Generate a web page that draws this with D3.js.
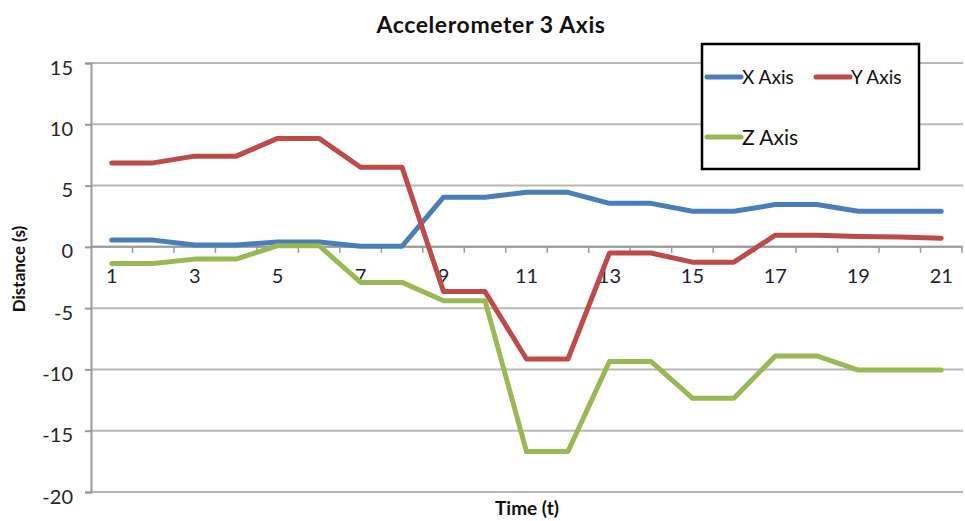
<!DOCTYPE html>
<html>
<head>
<meta charset="utf-8">
<script src="https://cdn.jsdelivr.net/npm/d3@7"></script>
<style>
  html, body { margin: 0; padding: 0; background: #fff; }
  svg { display: block; font-family: Lato, "Open Sans", sans-serif; }
</style>
</head>
<body>
<svg id="chart" width="965" height="521"></svg>
<script>
// Sample index (time steps)
const timeSteps = d3.range(1, 22);

// Accelerometer readings per axis
const xAxisValues = [0.55, 0.55, 0.15, 0.15, 0.4, 0.4, 0.05, 0.05, 4.05, 4.05, 4.45, 4.45, 3.55, 3.55, 2.9, 2.9, 3.45, 3.45, 2.9, 2.9, 2.9];
const yAxisValues = [6.85, 6.85, 7.4, 7.4, 8.85, 8.85, 6.5, 6.5, -3.65, -3.65, -9.15, -9.15, -0.5, -0.5, -1.25, -1.25, 0.95, 0.95, 0.85, 0.8, 0.7];
const zAxisValues = [-1.35, -1.35, -1.0, -1.0, 0.1, 0.1, -2.9, -2.9, -4.4, -4.4, -16.7, -16.7, -9.35, -9.35, -12.35, -12.35, -8.9, -8.9, -10.05, -10.05, -10.05];

const seriesNames = ["X Axis", "Y Axis", "Z Axis"];
const seriesColors = ["#4a7ebb", "#be4b48", "#98b954"];

const yTicks = [15, 10, 5, 0, -5, -10, -15, -20];
const xTickLabels = timeSteps.filter(t => t % 2 === 1);

const series = [
  { name: seriesNames[0], color: seriesColors[0], values: xAxisValues },
  { name: seriesNames[1], color: seriesColors[1], values: yAxisValues },
  { name: seriesNames[2], color: seriesColors[2], values: zAxisValues }
];

const svg = d3.select("#chart");
const plot = { left: 91, right: 962, top: 63, bottom: 492 };

const x = d3.scaleBand().domain(timeSteps).range([plot.left, plot.right]).padding(0);
const y = d3.scaleLinear().domain([-20, 15]).range([plot.bottom, plot.top]);

// Horizontal gridlines
svg.append("g")
  .selectAll("line")
  .data(yTicks)
  .join("line")
  .attr("x1", plot.left).attr("x2", 963)
  .attr("y1", d => y(d)).attr("y2", d => y(d))
  .attr("stroke", "#b8b8b8").attr("stroke-width", 2);

// Y axis
const yAxis = svg.append("g")
  .attr("transform", `translate(${plot.left},0)`)
  .call(d3.axisLeft(y).tickValues(yTicks).tickFormat(d => String(d)).tickSize(6).tickPadding(12));
yAxis.select(".domain").attr("stroke", "#9a9a9a").attr("stroke-width", 2);
yAxis.selectAll(".tick line").attr("stroke", "#9a9a9a").attr("stroke-width", 2);
yAxis.selectAll(".tick text")
  .attr("font-size", 20).attr("fill", "#262626")
  .attr("dy", "0.55em")
  .attr("font-family", "Lato, sans-serif");

// X axis sits on the zero line
const xBoundaries = timeSteps.map(t => x(t)).concat([plot.right]);
svg.append("line")
  .attr("x1", plot.left).attr("x2", plot.right)
  .attr("y1", y(0)).attr("y2", y(0))
  .attr("stroke", "#9a9a9a").attr("stroke-width", 2);
svg.append("g")
  .selectAll("line")
  .data(xBoundaries.slice(1))
  .join("line")
  .attr("x1", d => d).attr("x2", d => d)
  .attr("y1", y(0)).attr("y2", y(0) + 6)
  .attr("stroke", "#9a9a9a").attr("stroke-width", 1.5);
svg.append("g")
  .selectAll("text")
  .data(xTickLabels)
  .join("text")
  .attr("x", d => x(d) + x.bandwidth() / 2)
  .attr("y", y(0) + 36)
  .attr("text-anchor", "middle")
  .attr("font-size", 20)
  .attr("fill", "#1e2436")
  .text(d => d);

// Series lines
const line = d3.line()
  .x((d, i) => x(timeSteps[i]) + x.bandwidth() / 2)
  .y(d => y(d));

svg.append("g")
  .selectAll("path")
  .data(series)
  .join("path")
  .attr("d", d => line(d.values))
  .attr("fill", "none")
  .attr("stroke", d => d.color)
  .attr("stroke-width", 5)
  .attr("stroke-linejoin", "round")
  .attr("stroke-linecap", "round");

// Title
svg.append("text")
  .attr("x", 491).attr("y", 33)
  .attr("text-anchor", "middle")
  .attr("font-size", 23).attr("font-weight", "bold")
  .attr("letter-spacing", 0.6)
  .attr("fill", "#111")
  .text("Accelerometer 3 Axis");

// Axis titles
svg.append("text")
  .attr("transform", "translate(25,269) rotate(-90)")
  .attr("text-anchor", "middle")
  .attr("font-size", 17).attr("font-weight", "bold")
  .attr("fill", "#111")
  .text("Distance (s)");
svg.append("text")
  .attr("x", 527).attr("y", 515)
  .attr("text-anchor", "middle")
  .attr("font-size", 19).attr("font-weight", "bold")
  .attr("fill", "#111")
  .text("Time (t)");

// Legend
const legend = svg.append("g");
legend.append("rect")
  .attr("x", 702).attr("y", 44)
  .attr("width", 217).attr("height", 125)
  .attr("fill", "#fff").attr("stroke", "#000").attr("stroke-width", 2.5);
const legendItems = [
  { s: series[0], lx: 707, ly: 77, fs: 19 },
  { s: series[1], lx: 816, ly: 77, fs: 19 },
  { s: series[2], lx: 707, ly: 137, fs: 21 }
];
legendItems.forEach(it => {
  legend.append("line")
    .attr("x1", it.lx).attr("x2", it.lx + 34)
    .attr("y1", it.ly).attr("y2", it.ly)
    .attr("stroke", it.s.color).attr("stroke-width", 5)
    .attr("stroke-linecap", "round");
  legend.append("text")
    .attr("x", it.lx + 35).attr("y", it.ly + 0.36 * it.fs)
    .attr("font-size", it.fs).attr("fill", "#111")
    .text(it.s.name);
});
</script>
</body>
</html>
